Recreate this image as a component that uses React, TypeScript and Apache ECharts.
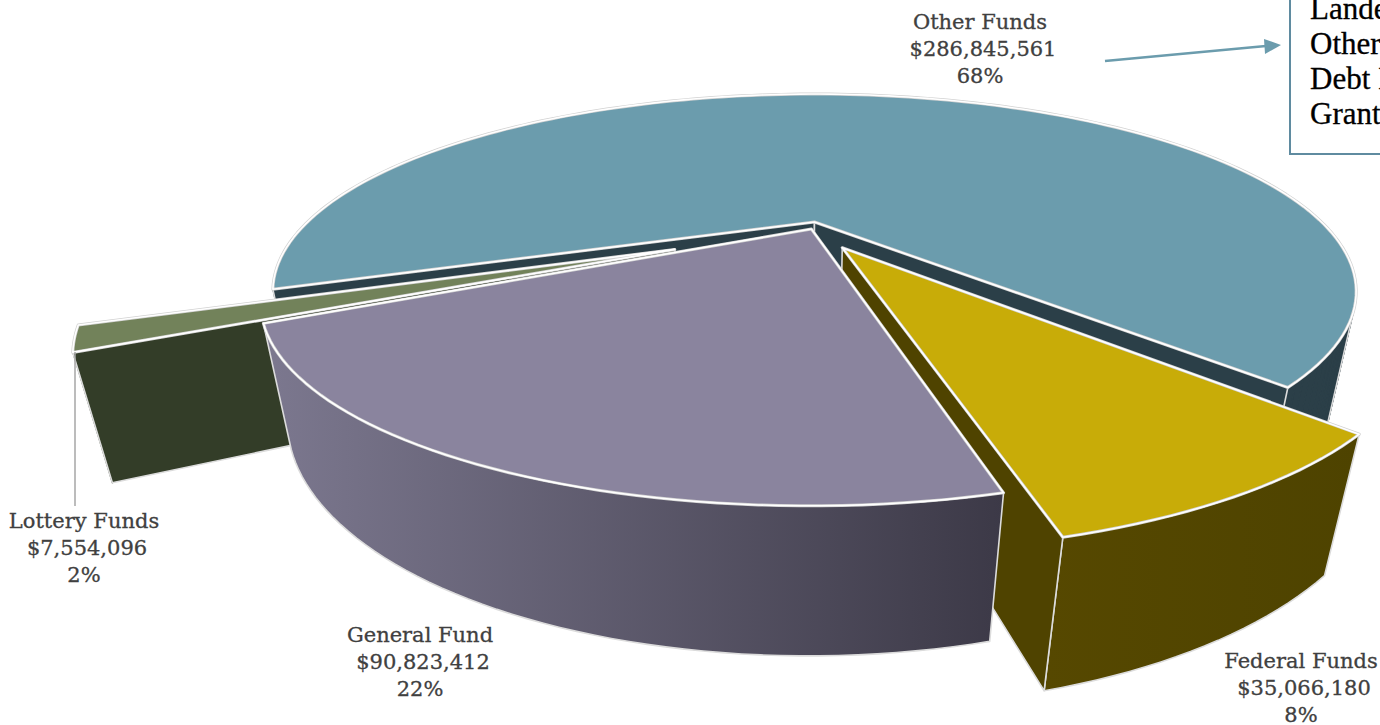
import React, { useEffect, useRef } from "react";
import * as echarts from "echarts";

const sliceNames = ["Other Funds", "Federal Funds", "Lottery Funds", "General Fund"];
const sliceValues = [286845561, 35066180, 7554096, 90823412];
const sliceValueLabels = ["$286,845,561", "$35,066,180", "$7,554,096", "$90,823,412"];
const slicePercents = ["68%", "8%", "2%", "22%"];
const boxLines = ["Landed", "Other", "Debt I", "Grants"];

// Clockwise order round the pie, starting from the left edge of Other Funds
const clockwiseOrder = [0, 1, 3, 2];
const START_ANGLE = 160;

const total = sliceValues.reduce((a, b) => a + b, 0);
const angleRanges: Record<number, [number, number]> = {};
{
  let a = START_ANGLE;
  for (const i of clockwiseOrder) {
    const sweep = (sliceValues[i] / total) * 360;
    angleRanges[i] = [a, a + sweep];
    a += sweep;
  }
}

// Perspective model of the disc
const CX = 814.5, CY = 222, RX = 507, RY = 173, K = 0.352, DEPTH = 0.0458;
const VPX = 795, VPY = 2733;
const explode: [number, number][] = [[0, 0], [0.052, 0.141], [-0.261, 0.15], [-0.006, 0.04]];

const styles = [
  { top: "#6b9cad", wall: "#2b3f48", inner: "#2b3f48", wall2: "#2b3f48" },
  { top: "#c8ac08", wall: "#564800", inner: "#4f4300", wall2: "#4e4300" },
  { top: "#72825a", wall: "#333d28", inner: "#333d28", wall2: "#333d28" },
  { top: "#8a849e", wall: "#7c788f", inner: "#3f3c4a", wall2: "#3c3947" },
];

type P = [number, number];

function project(x: number, y: number, lower: boolean): P {
  const w = 1 - K * y;
  const px = CX + (RX * x) / w;
  const py = CY + (RY * y) / w;
  if (!lower) return [px, py];
  const t = DEPTH / (w + DEPTH);
  return [px + t * (VPX - px), py + t * (VPY - py)];
}

function arcPoints(i: number, lower: boolean): P[] {
  const [a0, a1] = angleRanges[i];
  const [ox, oy] = explode[i];
  const n = Math.max(6, Math.ceil((a1 - a0) / 1.5));
  const out: P[] = [];
  for (let s = 0; s <= n; s++) {
    const a = ((a0 + ((a1 - a0) * s) / n) * Math.PI) / 180;
    out.push(project(Math.cos(a) + ox, Math.sin(a) + oy, lower));
  }
  return out;
}

function side(a: P, b: P, c: P) {
  return (b[0] - a[0]) * (c[1] - a[1]) - (b[1] - a[1]) * (c[0] - a[0]);
}

const EDGE = "#dcdcdc";

function radialWallFaces(i: number, angle: number, inward: number, apex: P, rim: P, rimLow: P) {
  const [ox, oy] = explode[i];
  const a = ((angle + inward) * Math.PI) / 180;
  const inner = project(0.5 * Math.cos(a) + ox, 0.5 * Math.sin(a) + oy, false);
  return side(apex, rim, inner) * side(apex, rim, rimLow) < 0;
}

function renderSlice(params: any) {
  const i = params.dataIndex;
  const st = styles[i];
  const [ox, oy] = explode[i];
  const [a0, a1] = angleRanges[i];
  const apexT = project(ox, oy, false);
  const apexB = project(ox, oy, true);
  const arcT = arcPoints(i, false);
  const arcB = arcPoints(i, true);
  const last = arcT.length - 1;
  const wallStyle = { stroke: EDGE, lineWidth: 1.6, lineJoin: "round" };
  const top = [apexT, ...arcT];
  const children: any[] = [];

  if (st.wall === st.wall2) {
    // flat colour: union of quads gives the true silhouette of the rim
    for (let s = 0; s < last; s++) {
      children.push({
        type: "polygon",
        shape: { points: [arcT[s], arcT[s + 1], arcB[s + 1], arcB[s]] },
        style: { fill: st.wall, stroke: st.wall, lineWidth: 1.2, lineJoin: "round" },
      });
    }
    for (let s = 1; s < last; s++) {
      const c0 = side(arcT[s - 1], arcT[s], arcB[s]);
      const c1 = side(arcT[s], arcT[s + 1], arcB[s]);
      if (c0 * c1 <= 0) {
        children.push({
          type: "line",
          shape: { x1: arcT[s][0], y1: arcT[s][1], x2: arcB[s][0], y2: arcB[s][1] },
          style: { stroke: EDGE, lineWidth: 1.6 },
        });
      }
    }
  } else {
    children.push({
      type: "polygon",
      shape: { points: [...arcT, ...arcB.slice().reverse()] },
      style: {
        fill: {
          type: "linear", x: 0, y: 0, x2: 1, y2: 0,
          colorStops: [{ offset: 0, color: st.wall }, { offset: 1, color: st.wall2 }],
        },
        ...wallStyle,
      },
    });
  }

  if (radialWallFaces(i, a0, 6, apexT, arcT[0], arcB[0])) {
    children.push({ type: "polygon", shape: { points: [apexT, arcT[0], arcB[0], apexB] }, style: { fill: st.inner, ...wallStyle } });
  }
  if (radialWallFaces(i, a1, -6, apexT, arcT[last], arcB[last])) {
    children.push({ type: "polygon", shape: { points: [apexT, arcT[last], arcB[last], apexB] }, style: { fill: st.inner, ...wallStyle } });
  }
  children.push(
    { type: "polygon", shape: { points: top }, style: { fill: st.top, stroke: "#d2d2d2", lineWidth: 3, lineJoin: "round" } },
    { type: "polygon", shape: { points: top }, style: { fill: "none", stroke: "#ffffff", lineWidth: 1.6, lineJoin: "round" } }
  );
  return { type: "group", children };
}

const labelAnchors = [
  { x: 980, y: 22 },
  { x: 1301, y: 661 },
  { x: 84, y: 521 },
  { x: 420, y: 635 },
];

const LABEL_FONT = '21px "DejaVu Serif", serif';

function labelElements() {
  const out: any[] = [];
  sliceNames.forEach((name, i) => {
    [name, sliceValueLabels[i], slicePercents[i]].forEach((line, l) => {
      out.push({
        type: "text",
        x: labelAnchors[i].x + (l === 1 ? 3 : 0),
        y: labelAnchors[i].y + l * 27,
        style: { text: line, font: LABEL_FONT, fill: "#404040", stroke: "#404040", lineWidth: 0.3, align: "center", verticalAlign: "middle" },
      });
    });
  });
  return out;
}

export default function App() {
  const ref = useRef<HTMLDivElement>(null);
  useEffect(() => {
    document.body.style.margin = "0";
    document.body.style.overflow = "hidden";
    const chart = echarts.init(ref.current!, null, { renderer: "svg" });
    chart.setOption({
      animation: false,
      backgroundColor: "#ffffff",
      graphic: [
        { type: "line", z: 10, shape: { x1: 75, y1: 352, x2: 75, y2: 506 }, style: { stroke: "#a6a6a6", lineWidth: 1.5 } },
        ...labelElements().map((e) => ({ ...e, z: 10 })),
        { type: "line", z: 10, shape: { x1: 1105, y1: 61, x2: 1266, y2: 46 }, style: { stroke: "#6b9cad", lineWidth: 2.5 } },
        { type: "polygon", z: 10, shape: { points: [[1264, 39], [1281, 45], [1265, 54]] }, style: { fill: "#6b9cad" } },
        { type: "rect", z: 10, shape: { x: 1290, y: -10, width: 200, height: 164 }, style: { fill: "#ffffff", stroke: "#5f8ba0", lineWidth: 2 } },
        ...boxLines.map((t, i) => ({
          type: "text",
          z: 11,
          x: 1310,
          y: 8 + i * 35.3,
          style: { text: t, font: '31px "Liberation Serif", serif', fill: "#000000", stroke: "#000000", lineWidth: 0.3, align: "left", verticalAlign: "middle" },
        })),
      ],
      series: [
        {
          type: "custom",
          coordinateSystem: "none",
          silent: true,
          clip: false,
          data: sliceValues.map((v) => [v]),
          renderItem: renderSlice,
        },
      ],
    });
    return () => chart.dispose();
  }, []);
  return <div ref={ref} style={{ width: 1380, height: 725 }} />;
}
